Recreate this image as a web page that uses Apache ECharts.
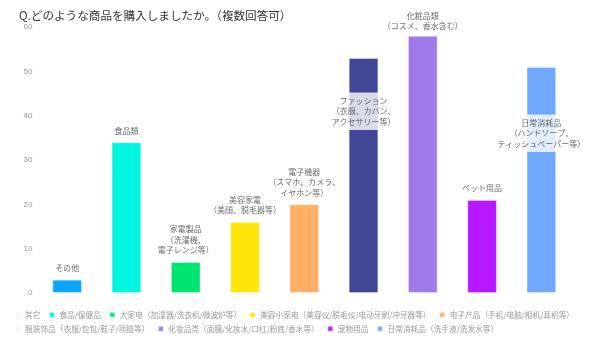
<!DOCTYPE html>
<html><head><meta charset="utf-8">
<script src="https://cdn.jsdelivr.net/npm/echarts@6/dist/echarts.min.js"></script>
<style>html,body{margin:0;padding:0;background:#fff}#c{width:600px;height:343px}</style>
</head><body><div id="c"></div>
<script>
const categories = ['その他','食品類','家電製品\n（洗濯機、\n電子レンジ等）','美容家電\n（美顔、脱毛器等）','電子機器\n（スマホ、カメラ、\nイヤホン等）','ファッション\n（衣服、カバン、\nアクセサリー等）','化粧品類\n（コスメ、香水含む）','ペット用品','日常消耗品\n（ハンドソープ、\nティッシュペーパー等）'];
const values = [3, 34, 7, 16, 20, 53, 58, 21, 51];
const labelAnchors = [3, 34, 7, 16, 20, 36, 57.5, 21, 31];
const legendNames = ['其它','食品/保健品','大家电（加湿器/洗衣机/微波炉等）','美容小家电（美容仪/脱毛仪/电动牙刷/冲牙器等）','电子产品（手机/电脑/相机/耳机等）','服装饰品（衣服/包包/鞋子/项链等）','化妆品类（面膜/化妆水/口红/粉底/香水等）','宠物用品','日常消耗品（洗手液/洗发水等）'];
const yTicks = {min: 0, max: 60, interval: 10};

const colors = ['#0AA6FF','#00F5DE','#00E472','#FFE60A','#FFB066','#424696','#A07AE8','#B619FF','#70A8FF'];
const faint = {0: true, 5: true};
const chart = echarts.init(document.getElementById('c'));
const legendItem = (n, i) => faint[i] ? {name: n, icon: 'path://M0,0h1v5h-1z', itemStyle: {color: '#dddddd'}} : {name: n};
const legendCommon = {left: 16, width: 590, padding: 0, itemWidth: 5, itemHeight: 5, itemGap: 8, icon: 'rect',
  textStyle: {fontSize: 7.7, color: '#999', fontFamily: 'Noto Sans CJK SC'}, selectedMode: false};
const series = legendNames.map((n, i) => ({
  name: n, type: 'bar', stack: 'all', barWidth: '50%',
  itemStyle: {color: colors[i], borderColor: 'rgba(255,255,255,0.35)', borderWidth: 1},
  data: values.map((v, j) => j === i ? v : '-')
}));
series.push({
  type: 'scatter', symbolSize: 1, itemStyle: {color: 'rgba(0,0,0,0)'}, z: 10, silent: true,
  data: labelAnchors,
  label: {show: true, position: 'top', distance: 3, formatter: p => categories[p.dataIndex],
    backgroundColor: '#fff', padding: [3, 2], fontSize: 8, lineHeight: 10.5, color: '#444',
    fontFamily: 'Noto Sans CJK JP', align: 'center'}
});
chart.setOption({
  animation: false,
  title: {text: 'Q.どのような商品を購入しましたか。（複数回答可）', left: 14, top: 5,
    textStyle: {fontSize: 11.6, fontWeight: 'normal', color: '#333', fontFamily: 'Noto Sans CJK JP'}},
  legend: [
    Object.assign({top: 311, data: legendNames.slice(0, 5).map((n, i) => legendItem(n, i))}, legendCommon),
    Object.assign({top: 325, data: legendNames.slice(5).map((n, i) => legendItem(n, i + 5))}, legendCommon)
  ],
  grid: {left: 37.5, right: 29, top: 27, bottom: 50},
  xAxis: {type: 'category', data: categories, axisLine: {show: false}, axisTick: {show: false}, axisLabel: {show: false}},
  yAxis: {type: 'value', min: yTicks.min, max: yTicks.max, interval: yTicks.interval,
    axisLabel: {fontSize: 8, color: '#999', margin: 5}, splitLine: {show: false}, axisLine: {show: false}, axisTick: {show: false}},
  series: series
});
</script></body></html>
